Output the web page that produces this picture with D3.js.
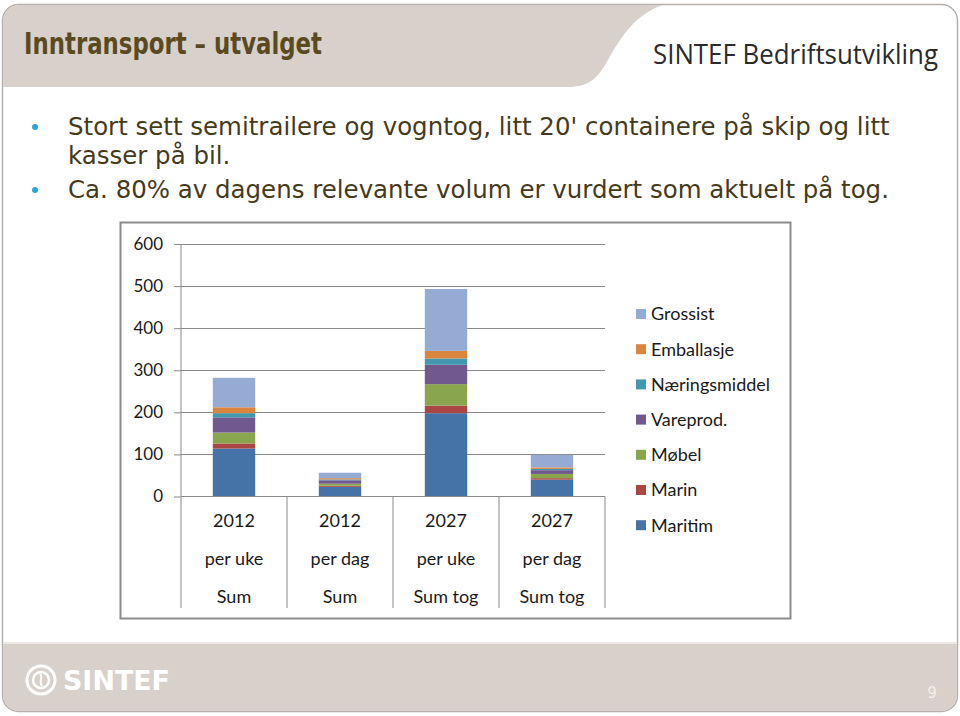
<!DOCTYPE html>
<html lang="no">
<head>
<meta charset="utf-8">
<title>Inntransport - utvalget</title>
<style>
  body { margin: 0; background: white; }
  .axis text { font: 18px Lato, sans-serif; fill: #1a1a1a; }
  .axis.yax text { font-size: 17px; }
  .axis path, .axis line { stroke: #8a8a8a; }
  .grid line { stroke: #8a8a8a; shape-rendering: crispEdges; }
</style>
</head>
<body>
<svg width="960" height="716"></svg>
<script src="https://d3js.org/d3.v7.min.js"></script>
<script>
// chart values
var years = ["2012", "2012", "2027", "2027"];
var periods = ["per uke", "per dag", "per uke", "per dag"];
var sums = ["Sum", "Sum", "Sum tog", "Sum tog"];
var series = ["Maritim", "Marin", "Møbel", "Vareprod.", "Næringsmiddel", "Emballasje", "Grossist"];
var maritim = [114, 23, 198, 40];
var marin = [12, 2.5, 18, 3.6];
var mobel = [26, 5, 51, 10];
var vareprod = [36, 8, 46, 9];
var naering = [10, 2, 15, 3];
var emballasje = [14, 3, 18, 3.6];
var grossist = [70, 13, 147, 29.5];
var yTicks = [0, 100, 200, 300, 400, 500, 600];
var colors = ["#4572A7", "#AA4643", "#89A54E", "#71588F", "#4198AF", "#DB843D", "#95ABD3"];

var svg = d3.select("svg");

// fit text to a given width
function fit(sel, w) {
    var len = sel.node().getComputedTextLength();
    var fs = parseFloat(sel.attr("font-size"));
    sel.attr("font-size", fs * w / len);
}

//slide frame
svg.append("rect").attr("x", 2.5).attr("y", 4.5).attr("width", 955).attr("height", 707)
    .attr("rx", 16).attr("fill", "white").attr("stroke", "#b5b0ab").attr("stroke-width", 1.5);

svg.append("clipPath").attr("id", "slide")
    .append("rect").attr("x", 3).attr("y", 5).attr("width", 954).attr("height", 706).attr("rx", 16);

var bg = svg.append("g").attr("clip-path", "url(#slide)");
// header band with curved edge
bg.append("path")
    .attr("d", "M0,0 L680,0 C640,8 625,30 608,60 C598,78 590,86 570,87 L0,87 Z")
    .attr("fill", "#D8D0CB");
// footer band
bg.append("rect").attr("x", 0).attr("y", 643).attr("width", 960).attr("height", 80).attr("fill", "#D8D0CB");
bg.append("line").attr("x1", 0).attr("x2", 960).attr("y1", 643).attr("y2", 643).attr("stroke", "#ece8e4").attr("stroke-width", 2);

// narrow title: squeeze a taller font into the width
svg.append("text").attr("x", 24).attr("y", 54)
    .attr("font-family", "'DejaVu Sans', sans-serif")
    .attr("font-weight", "bold").attr("font-size", 30).attr("fill", "#5A4A20")
    .attr("textLength", 298).attr("lengthAdjust", "spacingAndGlyphs")
    .text("Inntransport – utvalget");

var brand = svg.append("text").attr("x", 653).attr("y", 64)
    .attr("font-family", "'Open Sans', sans-serif").attr("font-size", 27).attr("fill", "#2b2b2b")
    .attr("textLength", 285).attr("lengthAdjust", "spacingAndGlyphs")
    .text("SINTEF Bedriftsutvikling");

// bullets
var bullets = [
    { y: 135, dot: true, text: "Stort sett semitrailere og vogntog, litt 20' containere på skip og litt", w: 822 },
    { y: 164, dot: false, text: "kasser på bil.", w: 146 },
    { y: 198, dot: true, text: "Ca. 80% av dagens relevante volum er vurdert som aktuelt på tog.", w: 824 }
];
bullets.forEach(function(b) {
    if (b.dot) {
        svg.append("circle").attr("cx", 35).attr("cy", b.y - 8).attr("r", 3).attr("fill", "#2AA6DC");
    }
});
var first = svg.append("text").attr("x", 68).attr("y", 135)
    .attr("font-family", "'DejaVu Sans', Verdana, sans-serif").attr("font-size", 22)
    .text(bullets[0].text);
fit(first, bullets[0].w);
var bfs = first.attr("font-size");
first.remove();
bullets.forEach(function(b) {
    svg.append("text").attr("x", 68).attr("y", b.y)
        .attr("font-family", "'DejaVu Sans', Verdana, sans-serif").attr("font-size", bfs)
        .attr("fill", "#463A1C").text(b.text);
});

// footer logo + page number
var logo = svg.append("g").attr("transform", "translate(41,680)");
logo.append("circle").attr("r", 14).attr("fill", "none").attr("stroke", "white").attr("stroke-width", 3);
logo.append("circle").attr("r", 8).attr("fill", "none").attr("stroke", "white").attr("stroke-width", 2.5);
logo.append("path").attr("d", "M-1,-6 C3,-3 -3,1 1,6").attr("fill", "none").attr("stroke", "white").attr("stroke-width", 2);
svg.append("text").attr("x", 63).attr("y", 690)
    .attr("font-family", "'DejaVu Sans', sans-serif").attr("font-weight", "bold")
    .attr("font-size", 26).attr("fill", "white").attr("textLength", 107).attr("lengthAdjust", "spacingAndGlyphs")
    .text("SINTEF");
svg.append("text").attr("x", 932).attr("y", 698)
    .attr("font-family", "'DejaVu Sans Condensed', sans-serif").attr("font-size", 16).attr("fill", "#f4f1ee")
    .attr("text-anchor", "middle").text("9");

// chart box
svg.append("rect").attr("x", 120.5).attr("y", 222.5).attr("width", 670).attr("height", 396)
    .attr("fill", "white").attr("stroke", "#8c8c8c").attr("stroke-width", 2);

var cats = d3.range(years.length);
var x = d3.scaleBand().domain(cats).range([181, 605]).paddingInner(0.6).paddingOuter(0.3);
var y = d3.scaleLinear().domain([0, 600]).range([496.5, 244]);

var table = cats.map(function(i) {
    return {
        "Maritim": maritim[i], "Marin": marin[i], "Møbel": mobel[i], "Vareprod.": vareprod[i],
        "Næringsmiddel": naering[i], "Emballasje": emballasje[i], "Grossist": grossist[i], idx: i
    };
});
var stacked = d3.stack().keys(series)(table);
var color = d3.scaleOrdinal().domain(series).range(colors);

// gridlines
svg.append("g").attr("class", "grid")
    .selectAll("line").data(yTicks.slice(1)).enter().append("line")
    .attr("x1", 181).attr("x2", 605)
    .attr("y1", function(d) { return Math.round(y(d)) + 0.5; })
    .attr("y2", function(d) { return Math.round(y(d)) + 0.5; });

// y axis
svg.append("g").attr("class", "axis yax")
    .attr("transform", "translate(181,0)")
    .call(d3.axisLeft(y).tickValues(yTicks).tickSize(7).tickSizeOuter(0).tickPadding(11))
    .call(function(g) { g.select(".domain").attr("d", "M0," + y(0) + "V" + y(600)); });

// bars
svg.append("g").selectAll("g").data(stacked).enter().append("g")
    .attr("fill", function(d) { return color(d.key); })
    .selectAll("rect").data(function(d) { return d; }).enter().append("rect")
    .attr("x", function(d) { return x(d.data.idx); })
    .attr("width", x.bandwidth())
    .attr("y", function(d) { return y(d[1]); })
    .attr("height", function(d) { return y(d[0]) - y(d[1]); });

// category axis (multi-level)
var step = x.step();
var xa = svg.append("g").attr("class", "axis");
xa.append("line").attr("x1", 181).attr("x2", 605).attr("y1", 496.5).attr("y2", 496.5).attr("stroke", "#8a8a8a");
xa.selectAll(".sep").data(d3.range(years.length + 1)).enter().append("line")
    .attr("class", "sep")
    .attr("x1", function(i) { return 181 + i * step; })
    .attr("x2", function(i) { return 181 + i * step; })
    .attr("y1", 496.5).attr("y2", 608).attr("stroke", "#a0a0a0");
[years, periods, sums].forEach(function(row, r) {
    xa.selectAll(".row" + r).data(row).enter().append("text")
        .attr("x", function(d, i) { return x(i) + x.bandwidth() / 2; })
        .attr("y", 521 + r * 38)
        .attr("dy", "0.35em")
        .attr("text-anchor", "middle")
        .text(function(d) { return d; });
});

// legend, top entry is the top of the stack
var legend = svg.append("g").selectAll("g").data(series.slice().reverse()).enter().append("g")
    .attr("transform", function(d, i) { return "translate(636," + (314 + i * 35.2) + ")"; });
legend.append("rect").attr("x", 0).attr("y", -5).attr("width", 10).attr("height", 10)
    .attr("fill", function(d) { return color(d); });
legend.append("text").attr("x", 15).attr("dy", "0.35em")
    .attr("font-family", "Lato, sans-serif").attr("font-size", 18).attr("fill", "#1a1a1a")
    .text(function(d) { return d; });
</script>
</body>
</html>
